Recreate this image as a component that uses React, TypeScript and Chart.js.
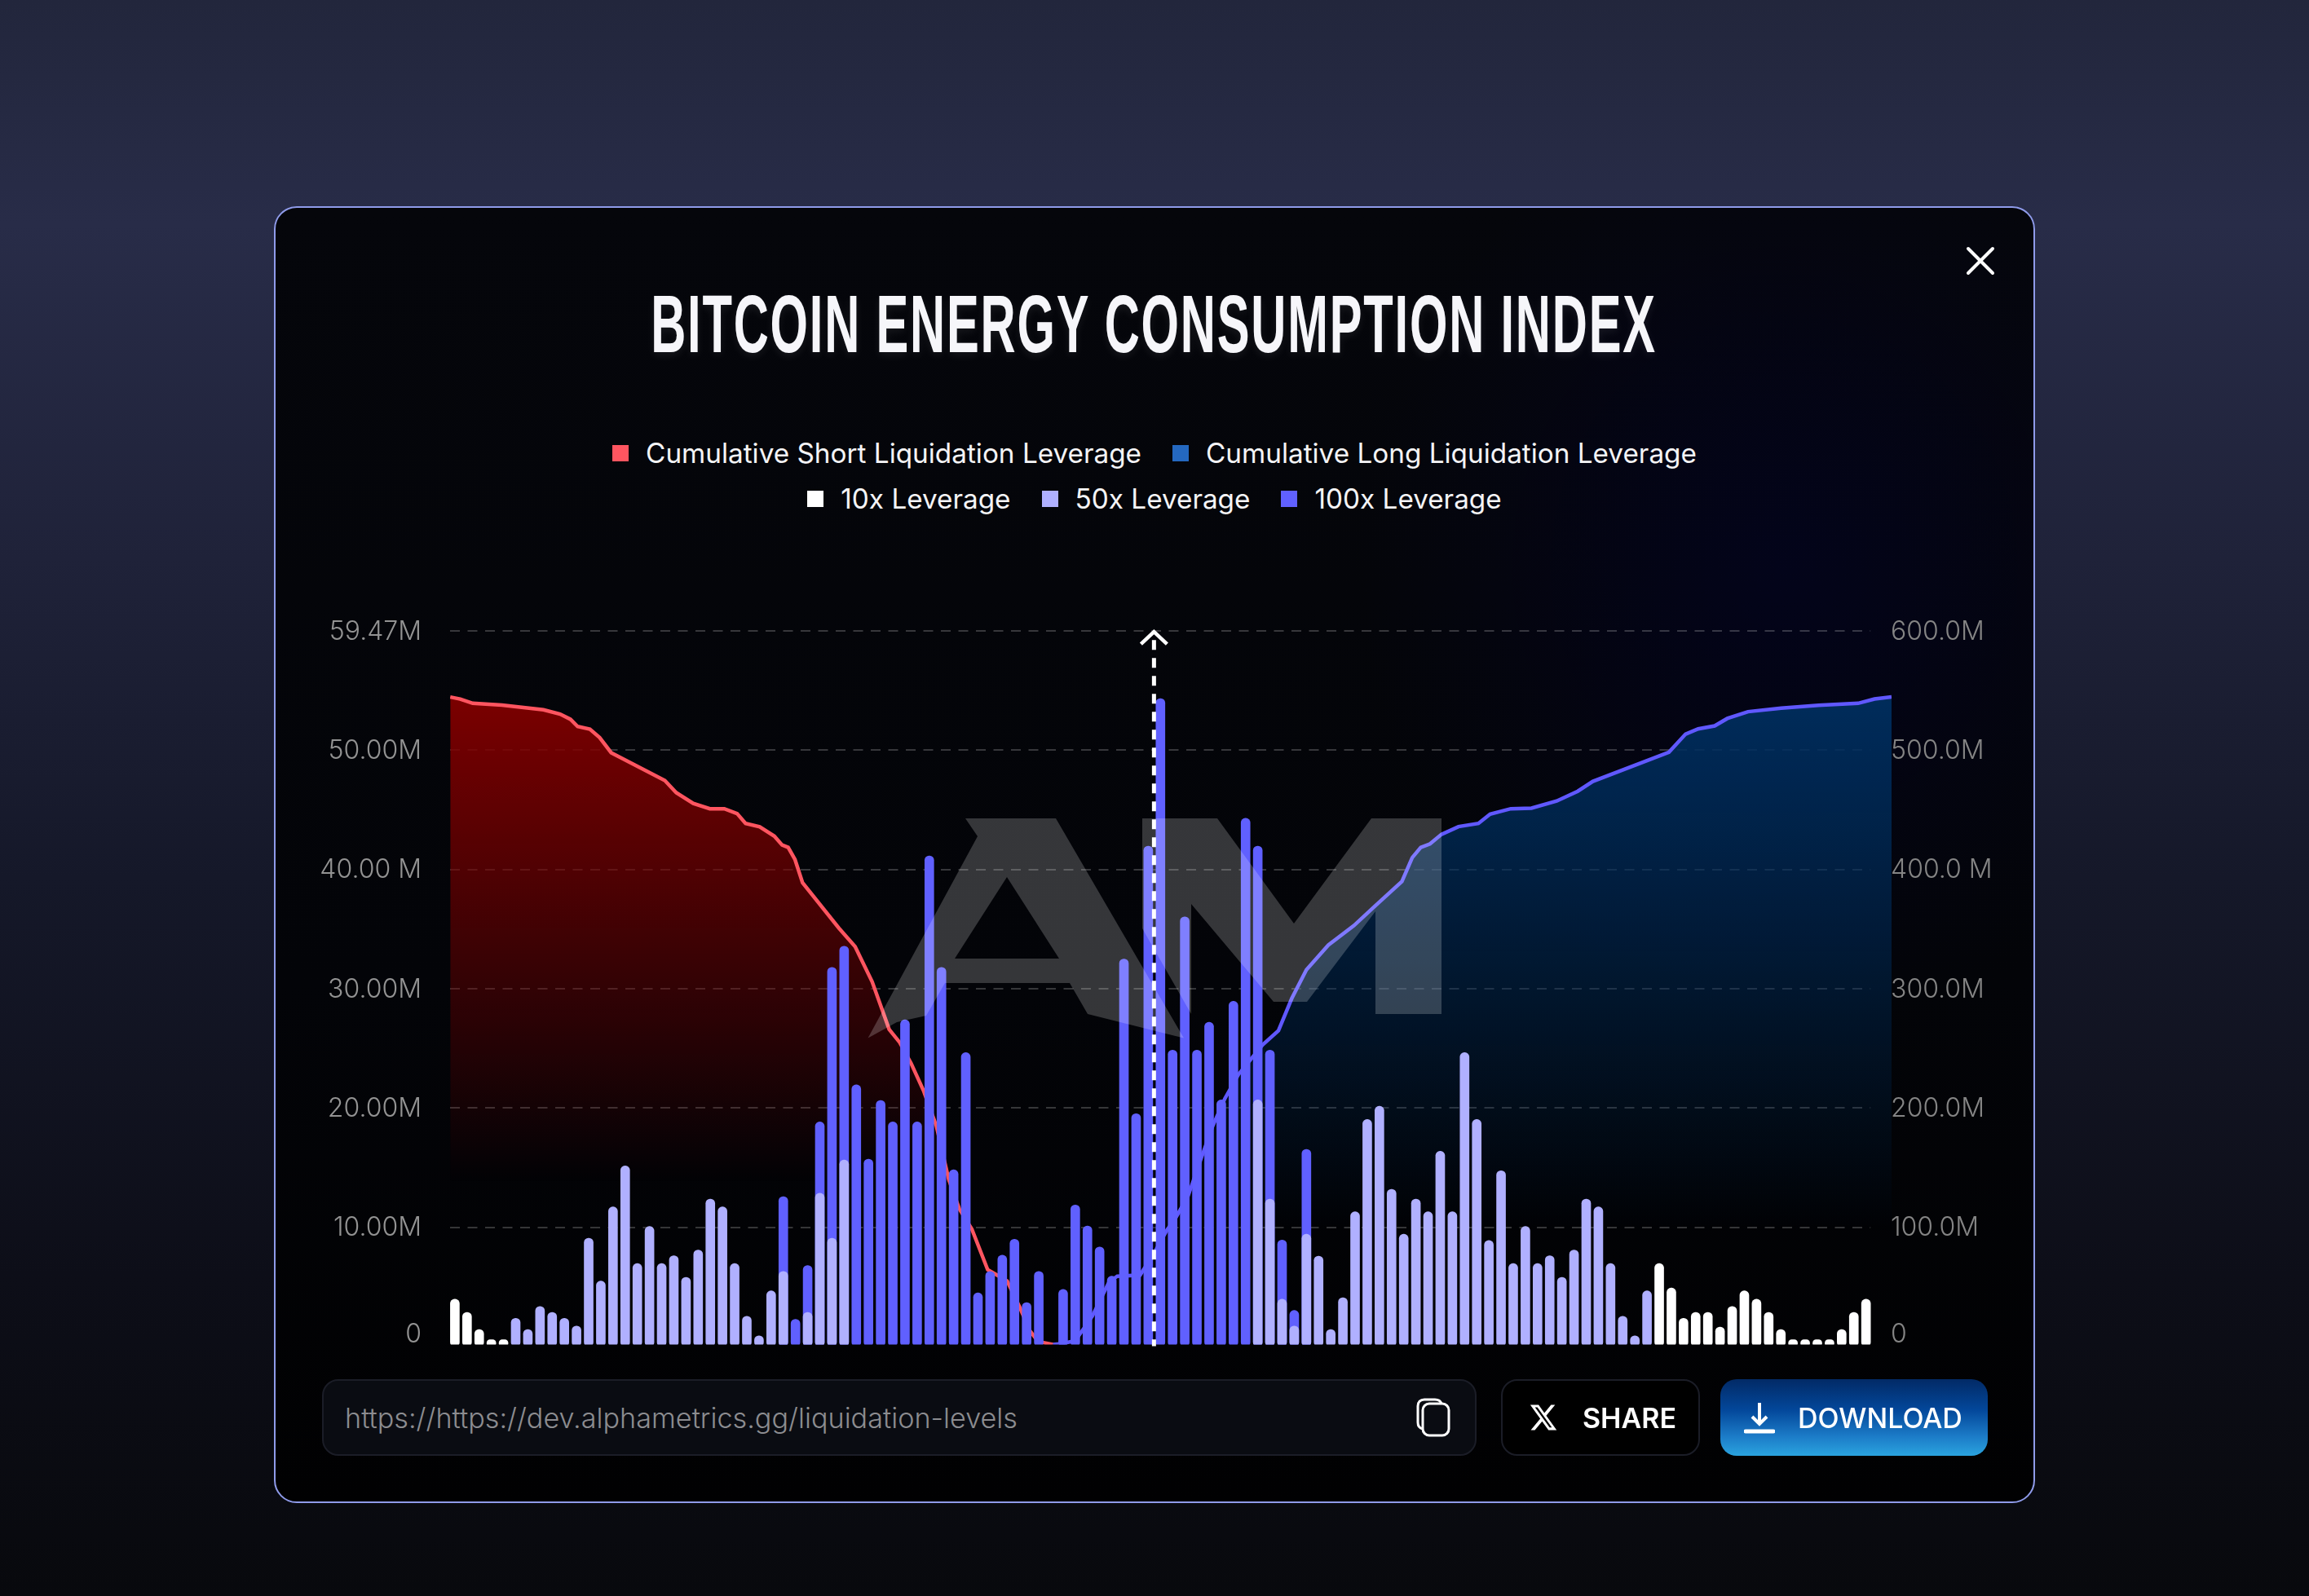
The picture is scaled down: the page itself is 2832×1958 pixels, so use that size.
import React, { useEffect, useRef } from "react";
import { Chart, registerables } from "chart.js";

Chart.register(...registerables);

const TITLE = "BITCOIN ENERGY CONSUMPTION INDEX";
const URL_TEXT = "https://https://dev.alphametrics.gg/liquidation-levels";

const legendRows = [
  [
    { label: "Cumulative Short Liquidation Leverage", color: "#ff5560" },
    { label: "Cumulative Long Liquidation Leverage", color: "#2468c0" },
  ],
  [
    { label: "10x Leverage", color: "#ffffff" },
    { label: "50x Leverage", color: "#b0b0ff" },
    { label: "100x Leverage", color: "#6060ff" },
  ],
];

const leftTickValues = [1.06, 10, 20, 30, 40, 50, 60];
const leftTickLabels = ["0", "10.00M", "20.00M", "30.00M", "40.00 M", "50.00M", "59.47M"];
const rightTickValues = [10.6, 100, 200, 300, 400, 500, 600];
const rightTickLabels = ["0", "100.0M", "200.0M", "300.0M", "400.0 M", "500.0M", "600.0M"];

const shortX = [-0.38, 0.44, 1.47, 3.86, 7.28, 8.65, 9.5, 10.09, 11.1, 11.9, 12.85, 17.26, 18.2, 19.6, 20.96, 22.15, 23.2, 23.9, 25.06, 26.26, 26.9, 27.4, 27.96, 28.58, 31.56, 32.9, 34.3, 35.7, 36.57, 37.5, 38.55, 39.58, 40.6, 41.46, 42.5, 43.8, 44.5, 45.4, 46.4, 47.27, 47.95, 49.15];
const shortY = [54.47, 54.3, 53.94, 53.8, 53.4, 53.04, 52.6, 52.0, 51.77, 51.07, 49.8, 47.47, 46.45, 45.55, 45.1, 45.1, 44.7, 43.87, 43.58, 42.8, 42.06, 41.86, 40.84, 38.9, 35.1, 33.55, 30.6, 26.6, 25.5, 23.76, 21.4, 18.5, 14.0, 11.56, 9.84, 6.44, 6.03, 5.5, 3.37, 1.32, 0.42, 0.17];

const longX = [49.15, 50, 51, 52.4, 53.77, 54.45, 56.33, 57.5, 58.55, 59.2, 60.26, 61.3, 62.3, 63.3, 64.4, 65.4, 66.4, 67.7, 68.8, 70, 71.8, 73.9, 75.65, 77.85, 78.7, 79.4, 80.16, 81.1, 82.5, 84.14, 85.1, 86.8, 88.5, 90.57, 92.3, 93.55, 99.8, 101.17, 102.2, 103.56, 104.6, 106.3, 109.03, 112.1, 115.35, 116.7, 118.1];
const longY = [0.17, 0.26, 0.5, 2.55, 5.4, 5.9, 6.0, 7.87, 9.8, 10.7, 12.6, 15.65, 18.5, 20.8, 22.8, 24.05, 25.3, 26.5, 29.2, 31.6, 33.67, 35.3, 36.95, 39, 41, 41.86, 42.15, 42.95, 43.6, 43.87, 44.65, 45.1, 45.15, 45.75, 46.57, 47.4, 49.84, 51.36, 51.8, 52.05, 52.67, 53.24, 53.53, 53.78, 53.94, 54.3, 54.47];

// one entry per bar, null where the series has no bar in that slot
const leverage100 = [
  null, null, null, null, null, null, null, null, null, null,
  null, null, null, null, null, null, null, null, null, null,
  null, null, null, null, null, null, null, 12.57, 2.29, 6.8,
  18.84, 31.8, 33.58, 21.95, 15.72, 20.64, 18.84, 27.4, 18.84, 41.15,
  31.8, 14.82, 24.65, 4.5, 6.3, 7.66, 9.0, 3.69, 6.3, null,
  4.79, 11.87, 10.11, 8.35, 5.9, 32.5, 19.53, 41.97, 54.34, 24.86,
  36.04, 24.86, 27.19, 20.68, 28.95, 44.3, 41.97, 24.86, 8.93, 3.03,
  16.54, null, null, null, null, null, null, null, null, null,
  null, null, null, null, null, null, null, null, null, null,
  null, null, null, null, null, null, null, null, null, null,
  null, null, null, null, null, null, null, null, null, null,
  null, null, null, null, null, null, null,
];
const leverage50 = [
  null, null, null, null, null, 2.37, 1.43, 3.36, 2.87, 2.37,
  1.72, 9.09, 5.49, 11.71, 15.15, 6.96, 10.07, 6.96, 7.62, 5.81,
  8.1, 12.37, 11.71, 6.96, 2.54, 0.9, 4.67, 6.3, null, 2.87,
  12.86, 9.09, 15.64, null, null, null, null, null, null, null,
  null, null, null, null, null, null, null, null, null, null,
  null, null, null, null, null, null, null, null, null, null,
  null, null, null, null, null, null, 20.68, 12.37, 3.97, 1.72,
  9.42, 7.58, 1.43, 4.1, 11.3, 19.04, 20.15, 13.19, 9.42, 12.37,
  11.3, 16.38, 11.3, 24.65, 19.04, 8.89, 14.74, 6.96, 10.07, 6.96,
  7.62, 5.81, 8.1, 12.37, 11.71, 6.96, 2.54, 0.9, 4.67, null,
  null, null, null, null, null, null, null, null, null, null,
  null, null, null, null, null, null, null,
];
const leverage10 = [
  3.97, 2.87, 1.43, 0.57, 0.57, null, null, null, null, null,
  null, null, null, null, null, null, null, null, null, null,
  null, null, null, null, null, null, null, null, null, null,
  null, null, null, null, null, null, null, null, null, null,
  null, null, null, null, null, null, null, null, null, null,
  null, null, null, null, null, null, null, null, null, null,
  null, null, null, null, null, null, null, null, null, null,
  null, null, null, null, null, null, null, null, null, null,
  null, null, null, null, null, null, null, null, null, null,
  null, null, null, null, null, null, null, null, null, 6.96,
  4.91, 2.37, 2.87, 2.87, 1.64, 3.36, 4.67, 3.97, 2.87, 1.43,
  0.57, 0.57, 0.57, 0.57, 1.43, 2.87, 3.97,
];

const MARKER_INDEX = 57.47;
const LAST_BAR_EDGE = 116.37;
const FONT = "Inter, 'Noto Sans', sans-serif";

const toBarPoints = (values: (number | null)[]) =>
  values.map((y, x) => (y == null ? null : { x, y })).filter(Boolean);
const toLinePoints = (xs: number[], ys: number[]) => xs.map((x, i) => ({ x, y: ys[i] }));

const verticalFill = (c0: string, c1: string, y0: number, y1: number) => (ctx: any) => {
  const g = ctx.chart.ctx.createLinearGradient(0, y0, 0, y1);
  g.addColorStop(0, c0);
  g.addColorStop(1, c1);
  return g;
};

const gridPlugin = {
  id: "dashedGrid",
  beforeDatasetsDraw(chart: any) {
    const { ctx, scales } = chart;
    const x0 = scales.x.left;
    const x1 = scales.x.getPixelForValue(LAST_BAR_EDGE);
    ctx.save();
    ctx.strokeStyle = "rgba(255,255,255,0.27)";
    ctx.lineWidth = 1.5;
    ctx.setLineDash([12, 9.5]);
    for (const t of scales.y.ticks) {
      if (t.value < 10) continue;
      const y = Math.round(scales.y.getPixelForValue(t.value));
      ctx.beginPath();
      ctx.moveTo(x0, y);
      ctx.lineTo(x1, y);
      ctx.stroke();
    }
    ctx.restore();
  },
};

const markerPlugin = {
  id: "marker",
  afterDatasetsDraw(chart: any) {
    const { ctx, scales } = chart;
    const x = scales.x.getPixelForValue(MARKER_INDEX);
    const top = scales.y.getPixelForValue(60);
    ctx.save();
    ctx.strokeStyle = "#ffffff";
    ctx.lineWidth = 5;
    ctx.setLineDash([12, 10]);
    ctx.beginPath();
    ctx.moveTo(x, top + 11);
    ctx.lineTo(x, scales.y.bottom + 2);
    ctx.stroke();
    ctx.setLineDash([]);
    ctx.lineWidth = 4.5;
    ctx.beginPath();
    ctx.moveTo(x - 16, top + 16);
    ctx.lineTo(x, top + 1);
    ctx.lineTo(x + 16, top + 16);
    ctx.stroke();
    ctx.restore();
  },
};

const abs = (left: number, top: number, width?: number, height?: number): React.CSSProperties => ({
  position: "absolute",
  left,
  top,
  width,
  height,
  boxSizing: "border-box",
});

export default function App() {
  const ref = useRef<HTMLCanvasElement | null>(null);

  useEffect(() => {
    if (!ref.current) return;
    const barCommon = {
      type: "bar" as const,
      grouped: false,
      barThickness: 11,
      borderRadius: 5.5,
      borderSkipped: false,
      borderWidth: 0,
      xAxisID: "x",
      yAxisID: "y",
    };
    const tickFont = { family: FONT, size: 32, weight: "300" as any };
    const chart = new Chart(ref.current, {
      type: "bar",
      data: {
        datasets: [
          {
            ...barCommon,
            label: legendRows[1][0].label,
            data: toBarPoints(leverage10) as any,
            backgroundColor: legendRows[1][0].color,
            order: 1,
          },
          {
            ...barCommon,
            label: legendRows[1][1].label,
            data: toBarPoints(leverage50) as any,
            backgroundColor: legendRows[1][1].color,
            order: 2,
          },
          {
            ...barCommon,
            label: legendRows[1][2].label,
            data: toBarPoints(leverage100) as any,
            backgroundColor: legendRows[1][2].color,
            order: 3,
          },
          {
            type: "line" as const,
            label: legendRows[0][0].label,
            data: toLinePoints(shortX, shortY) as any,
            borderColor: "#ff5560",
            borderWidth: 4.5,
            pointRadius: 0,
            tension: 0,
            fill: "origin",
            backgroundColor: verticalFill("rgba(128,0,0,1)", "rgba(128,0,0,0)", 830, 1450),
            order: 5,
          },
          {
            type: "line" as const,
            label: legendRows[0][1].label,
            data: toLinePoints(longX, longY) as any,
            borderColor: "#6058ff",
            borderWidth: 4.5,
            pointRadius: 0,
            tension: 0,
            fill: "origin",
            backgroundColor: verticalFill("rgba(0,46,94,1)", "rgba(0,46,94,0)", 830, 1510),
            order: 5,
          },
        ],
      },
      options: {
        responsive: false,
        animation: false,
        devicePixelRatio: 1,
        events: [],
        layout: { padding: { top: 774.2, bottom: 308.5, left: 0, right: 0 } },
        plugins: { legend: { display: false }, title: { display: false }, tooltip: { enabled: false } },
        scales: {
          x: {
            type: "linear",
            display: false,
            offset: false,
            min: -0.395,
            max: 118.1,
            grid: { display: false, offset: false },
          },
          y: {
            type: "linear",
            position: "left",
            min: 0.17,
            max: 60,
            grid: { display: false, drawTicks: false },
            border: { display: false },
            afterFit: (s: any) => {
              s.width = 552;
            },
            afterBuildTicks: (s: any) => {
              s.ticks = leftTickValues.map((value) => ({ value }));
            },
            ticks: {
              autoSkip: false,
              padding: 35,
              labelOffset: 0.8,
              color: "#939393",
              font: tickFont,
              callback: (_v: any, i: number) => leftTickLabels[i],
            },
          },
          y1: {
            type: "linear",
            position: "right",
            min: 1.7,
            max: 600,
            display: true,
            grid: { display: false, drawTicks: false },
            border: { display: false },
            afterFit: (s: any) => {
              s.width = 512;
            },
            afterBuildTicks: (s: any) => {
              s.ticks = rightTickValues.map((value) => ({ value }));
            },
            ticks: {
              autoSkip: false,
              padding: -1,
              labelOffset: 0.8,
              color: "#858585",
              font: tickFont,
              callback: (_v: any, i: number) => rightTickLabels[i],
            },
          },
        },
      },
      plugins: [gridPlugin, markerPlugin],
    } as any);
    return () => chart.destroy();
  }, []);

  const btnBase: React.CSSProperties = {
    ...abs(0, 1692, undefined, 94),
    borderRadius: 20,
    fontFamily: FONT,
    display: "block",
  };

  return (
    <div
      style={{
        ...abs(0, 0, 2832, 1958),
        overflow: "hidden",
        background:
          "linear-gradient(180deg,#22263c 0%,#282c48 14%,#1f2239 35%,#151829 55%,#0d0e18 80%,#08090d 100%)",
        fontFamily: FONT,
      }}
    >
      {/* panel */}
      <div
        style={{
          ...abs(336, 253, 2160, 1591),
          borderRadius: 28,
          border: "2.5px solid #8f9bea",
          background:
            "radial-gradient(ellipse 520px 560px at 1850px 440px, rgba(0,0,70,0.28), rgba(0,0,70,0) 100%), linear-gradient(180deg,#05060b 0%,#030408 60%,#010102 100%)",
        }}
      />
      {/* close */}
      <svg style={abs(2405, 296, 48, 48)} viewBox="0 0 48 48">
        <path d="M9 9 L39 39 M39 9 L9 39" stroke="#fff" strokeWidth="4" strokeLinecap="round" />
      </svg>
      {/* title */}
      <div
        style={{
          ...abs(15, 337, 2800, 120),
          textAlign: "center",
          lineHeight: "120px",
          fontFamily: "'Liberation Sans Narrow', 'Liberation Sans', sans-serif",
          fontWeight: 700,
          fontSize: 100,
          letterSpacing: 3,
          color: "#f6f6fa",
          whiteSpace: "nowrap",
          transform: "scaleX(0.597)",
          textShadow: "0 4px 14px rgba(255,255,255,0.08)",
        }}
      >
        {TITLE}
      </div>
      {/* legend */}
      {legendRows.map((row, r) => (
        <div
          key={r}
          style={{
            ...abs(416, r === 0 ? 531 : 587, 2000, 50),
            display: "flex",
            justifyContent: "center",
            alignItems: "center",
            gap: 38,
          }}
        >
          {row.map((item) => (
            <div key={item.label} style={{ display: "flex", alignItems: "center", gap: 21 }}>
              <span style={{ width: 20, height: 20, background: item.color, display: "block" }} />
              <span style={{ color: "#f4f4f6", fontSize: 33.3, fontWeight: 400, whiteSpace: "nowrap" }}>
                {item.label}
              </span>
            </div>
          ))}
        </div>
      ))}
      {/* chart */}
      <canvas ref={ref} width={2832} height={1958} style={{ ...abs(0, 0, 2832, 1958), display: "block" }} />
      {/* watermark */}
      <svg style={abs(0, 0, 2832, 1958)} viewBox="0 0 2832 1958">
        <path
          fill="rgba(255,255,255,0.2)"
          fillRule="evenodd"
          d="M1184 1004 L1295 1004 L1452 1273.6 L1334 1244 L1312 1206 L1159 1206 L1136 1246 L1100 1254 L1064.5 1273.6 L1199 1026 Z M1235 1076 L1171 1176 L1299 1176 Z"
        />
        <path
          fill="rgba(255,255,255,0.2)"
          d="M1401 1004 L1493 1004 L1587 1133 L1682 1004 L1768 1004 L1768 1244 L1687 1244 L1687 1118 L1603 1229 L1562 1229 L1461 1109 L1461 1244 L1401 1139 Z"
        />
      </svg>
      {/* url box */}
      <div
        style={{
          ...btnBase,
          left: 395,
          width: 1416,
          background: "#0a0c12",
          border: "2px solid #1b1d27",
        }}
      />
      <div
        style={{
          ...abs(423, 1716, 900, 48),
          lineHeight: "48px",
          fontSize: 34.2,
          color: "#8c8c90",
          whiteSpace: "nowrap",
          fontWeight: 300,
        }}
      >
        {URL_TEXT}
      </div>
      <svg style={abs(1736, 1715, 44, 48)} viewBox="0 0 44 48" fill="none" stroke="#fff" strokeWidth="3">
        <rect x="9" y="7" width="32" height="39" rx="8" />
        <path d="M9 38 C4 37 3 34 3 30 V10 C3 5 6 2 11 2 H24 C29 2 31 4 32 7" />
      </svg>
      {/* share */}
      <div style={{ ...btnBase, left: 1841, width: 244, background: "#000", border: "2px solid #1b1d27" }} />
      <svg style={abs(1875, 1720, 36, 38)} viewBox="0 0 24 24" preserveAspectRatio="none">
        <path
          fill="#fff"
          d="M18.244 2.25h3.308l-7.227 8.26 8.502 11.24H16.17l-5.214-6.817L4.99 21.75H1.68l7.73-8.835L1.254 2.25H8.08l4.713 6.231zm-1.161 17.52h1.833L7.084 4.126H5.117z"
        />
      </svg>
      <div
        style={{
          ...abs(1941, 1716, 130, 48),
          lineHeight: "48px",
          fontSize: 34,
          fontWeight: 600,
          color: "#fff",
          whiteSpace: "nowrap",
        }}
      >
        SHARE
      </div>
      {/* download */}
      <div
        style={{
          ...btnBase,
          left: 2110,
          width: 328,
          background: "linear-gradient(180deg,#022a66 0%,#03479a 40%,#1c7cc8 75%,#2aa3de 100%)",
        }}
      />
      <svg style={abs(2139, 1718, 38, 42)} viewBox="0 0 38 42" fill="none" stroke="#fff" strokeWidth="4">
        <path d="M19 3 V28 M10 20 L19 29 L28 20" />
        <path d="M2 38 H36" strokeWidth="5" strokeLinecap="round" />
      </svg>
      <div
        style={{
          ...abs(2205, 1716, 220, 48),
          lineHeight: "48px",
          fontSize: 34,
          fontWeight: 500,
          color: "#fff",
          whiteSpace: "nowrap",
        }}
      >
        DOWNLOAD
      </div>
    </div>
  );
}
